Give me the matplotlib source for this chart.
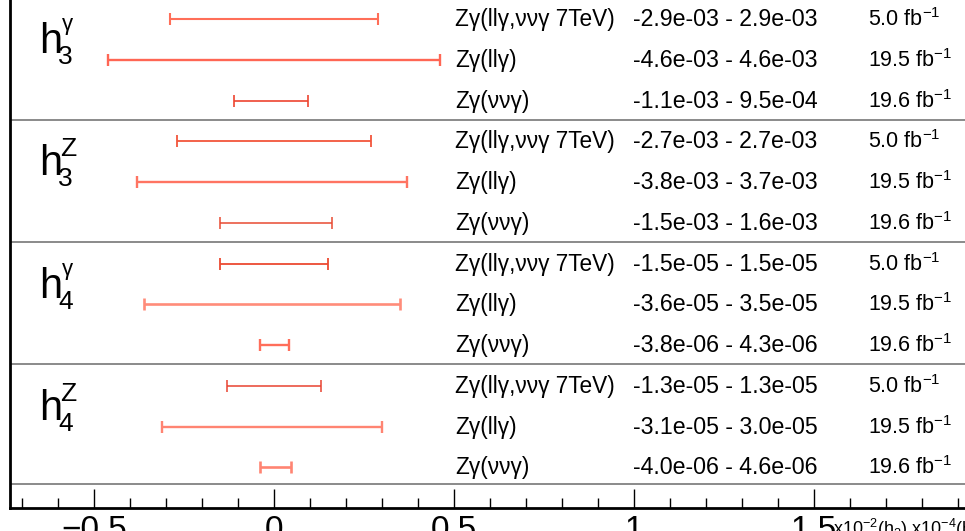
import numpy as np
import matplotlib.pyplot as plt
from matplotlib.ticker import MultipleLocator, FuncFormatter

plt.rcParams['font.family'] = ['Liberation Sans', 'DejaVu Sans']
plt.rcParams['mathtext.fontset'] = 'custom'
plt.rcParams['mathtext.rm'] = 'Liberation Sans'
plt.rcParams['mathtext.it'] = 'Liberation Sans:italic'
plt.rcParams['mathtext.bf'] = 'Liberation Sans:bold'

# aTGC couplings, three measurements each
couplings = ['h3g', 'h3Z', 'h4g', 'h4Z']
coupling_sup = ['γ', 'Z', 'γ', 'Z']
coupling_sub = ['3', '3', '4', '4']
coupling_scale = [1e2, 1e2, 1e4, 1e4]   # axis shows x10^-2 (h3), x10^-4 (h4)

channels = ['Zγ(llγ,ννγ 7TeV)', 'Zγ(llγ)', 'Zγ(ννγ)']
lumi = ['5.0', '19.5', '19.6']

lower = [[-2.9e-03, -4.6e-03, -1.1e-03],
         [-2.7e-03, -3.8e-03, -1.5e-03],
         [-1.5e-05, -3.6e-05, -3.8e-06],
         [-1.3e-05, -3.1e-05, -4.0e-06]]
upper = [[2.9e-03, 4.6e-03, 9.5e-04],
         [2.7e-03, 3.7e-03, 1.6e-03],
         [1.5e-05, 3.5e-05, 4.3e-06],
         [1.3e-05, 3.0e-05, 4.6e-06]]

bar_colors = [['#ff6e58', '#ff6654', '#ee4430'],
              ['#f2553c', '#ff7462', '#e84a32'],
              ['#ec4a32', '#ff8c7a', '#ff6e5a'],
              ['#e84230', '#ff8472', '#ff8472']]
bar_widths = [[1.5, 1.7, 1.2],
              [1.3, 1.7, 1.1],
              [1.3, 1.9, 1.7],
              [1.1, 1.7, 1.9]]

fig = plt.figure(figsize=(9.65, 5.31), dpi=100)
ax = fig.add_axes([10 / 965, 23 / 531, 955 / 965, 508 / 531])
ax.set_xlim(-0.733, 1.919)
ax.set_ylim(12.0, -0.47)
px = 508 / 12.47   # pixels per row

for g in range(4):
    for k in range(3):
        row = 3 * g + k
        lo = lower[g][k] * coupling_scale[g]
        hi = upper[g][k] * coupling_scale[g]
        ax.errorbar([(lo + hi) / 2], [row], xerr=[[(hi - lo) / 2], [(hi - lo) / 2]],
                    fmt='none', ecolor=bar_colors[g][k], elinewidth=bar_widths[g][k],
                    capsize=4.3, capthick=bar_widths[g][k])
        ax.text(0.503, row + 7 / px, channels[k], fontsize=16.3, va='baseline', ha='left')
        ax.text(0.998, row + 7 / px, '%.1e - %.1e' % (lower[g][k], upper[g][k]),
                fontsize=16.7, va='baseline', ha='left')
        ax.text(1.650, row + 7 / px, lumi[k] + ' fb$^{-1}$', fontsize=15.5,
                va='baseline', ha='left')
    # group separator
    ax.axhline(3 * g + 2.47 if g < 3 else 11.42, color='#8a8a8a', lw=1.4)
    # big coupling label
    top = 3 * g
    ax.text(-0.652, top + 34 / px, 'h', fontsize=30, va='baseline', ha='left')
    ax.text(-0.600, top + 45 / px, coupling_sub[g], fontsize=19, va='baseline', ha='left')
    if coupling_sup[g] == 'γ':
        ax.text(-0.590, top + 11 / px, 'γ', fontsize=16, va='baseline', ha='left')
    else:
        ax.text(-0.594, top + 15 / px, 'Z', fontsize=19, va='baseline', ha='left')

ax.spines['top'].set_visible(False)
ax.spines['right'].set_visible(False)
ax.spines['left'].set_linewidth(2)
ax.spines['bottom'].set_linewidth(2)
ax.set_yticks([])
ax.xaxis.set_major_locator(MultipleLocator(0.5))
ax.xaxis.set_minor_locator(MultipleLocator(0.1))
ax.xaxis.set_major_formatter(FuncFormatter(lambda v, p: ('%g' % v).replace('-', '\u2212')))
ax.tick_params(axis='x', which='major', direction='in', length=14, width=1,
               labelsize=24, pad=5)
ax.tick_params(axis='x', which='minor', direction='in', length=7, width=1)

fig.text(833 / 965, -0.008, 'x10$^{-2}$(h$_{3}$),x10$^{-4}$(h$_{4}$)', fontsize=13,
         va='baseline', ha='left')

fig.savefig('out.png', dpi=100)
